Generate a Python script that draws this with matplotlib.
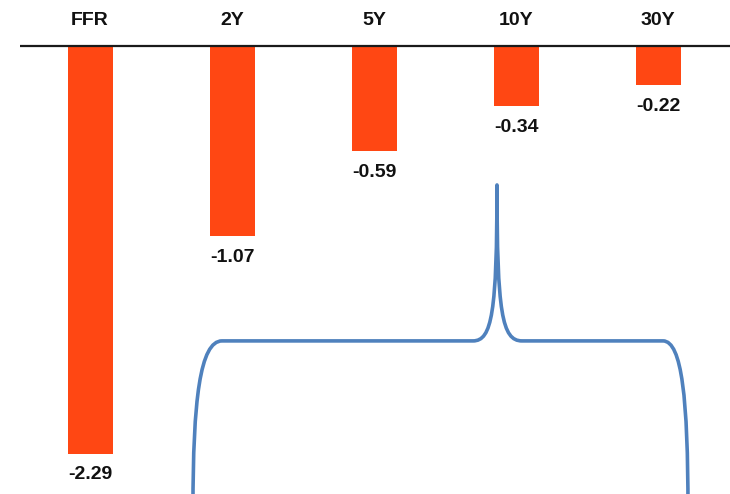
import matplotlib.pyplot as plt
from matplotlib.path import Path
from matplotlib.patches import PathPatch
import numpy as np

plt.rcParams['font.family'] = ['Liberation Sans', 'DejaVu Sans']

tenors = ['FFR', '2Y', '5Y', '10Y', '30Y']
changes = [-2.29, -1.07, -0.59, -0.34, -0.22]

fig = plt.figure(figsize=(7.30, 4.94), dpi=100)
ax = fig.add_axes([0, 0, 1, 1])
ax.set_xlim(-0.634, 4.507)
ax.set_ylim(-2.517, 0.258)
ax.axis('off')

x = np.arange(len(tenors))
ax.bar(x, changes, width=0.317, color='#FF4713', zorder=2)
ax.hlines(0, -0.49, 4.6, color='#1a1a1a', lw=1.6, zorder=3)

for i, (name, v) in enumerate(zip(tenors, changes)):
    ax.text(i, 0.143, name, ha='center', va='center', fontsize=14,
            fontweight='bold', color='#111111')
    ax.text(i, v - 0.12, f'{v:.2f}', ha='center', va='center',
            fontsize=14, fontweight='bold', color='#111111')

# curly brace under the long end
xl, xr, xt = 0.725, 4.211, 2.866
yb, yh, yt = -2.6, -1.657, -0.781
verts = [
    (xl, yb), (xl, -1.99), (0.775, yh), (0.93, yh),
    (2.697, yh),
    (2.83, yh), (xt, -1.50), (xt, yt),
    (xt, -1.50), (2.902, yh), (3.042, yh),
    (4.035, yh),
    (4.169, yh), (xr, -1.99), (xr, yb),
]
codes = [Path.MOVETO, Path.CURVE4, Path.CURVE4, Path.CURVE4,
         Path.LINETO,
         Path.CURVE4, Path.CURVE4, Path.CURVE4,
         Path.CURVE4, Path.CURVE4, Path.CURVE4,
         Path.LINETO,
         Path.CURVE4, Path.CURVE4, Path.CURVE4]
ax.add_patch(PathPatch(Path(verts, codes), fill=False, ec='#4F81BD',
                       lw=2.6, capstyle='round', joinstyle='round', zorder=4))

fig.savefig('out.png', dpi=100)
